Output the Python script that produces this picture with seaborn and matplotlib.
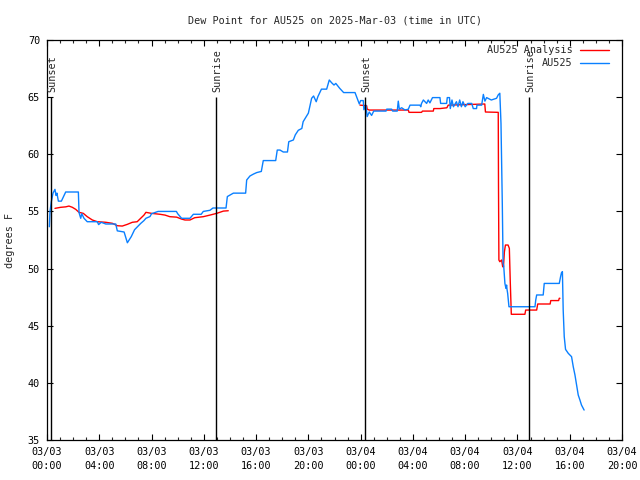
import numpy as np
import pandas as pd
import matplotlib
matplotlib.use("Agg")
import matplotlib.pyplot as plt
import seaborn as sns

title = "Dew Point for AU525 on 2025-Mar-03 (time in UTC)"
ylabel = "degrees F"

# hours since 2025-03-03 00:00 UTC
obs_hours = [0.18, 0.23, 0.33, 0.46, 0.61, 0.69, 0.76, 0.87, 1.10, 1.43, 2.40, 2.45, 2.58, 2.66, 2.83,
             3.08, 3.85, 3.95, 4.15, 4.5, 5.26, 5.38, 5.9, 6.15, 6.45, 6.7, 7.17, 7.42, 7.57, 7.88,
             8.0, 8.5, 9.9, 10.0, 10.3, 10.94, 11.2, 11.8, 11.96, 12.47, 12.7, 13.7, 13.8, 14.1, 14.26,
             15.2, 15.28, 15.53, 15.8, 16.05, 16.4, 16.55, 17.5, 17.62, 17.83, 18.08, 18.4, 18.5, 18.85,
             19.0, 19.23, 19.5, 19.6, 20.0, 20.25, 20.4, 20.6, 20.73, 21.0, 21.4, 21.6, 21.78, 21.96,
             22.1, 22.4, 22.7, 23.57, 23.7, 23.9, 24.0, 24.2, 24.25, 24.4, 24.5, 24.66, 24.84, 25.0,
             25.94, 26.0, 26.37, 26.45, 26.8, 26.88, 26.96, 27.14, 27.4, 27.65, 27.78, 28.54, 28.6,
             28.66, 28.8, 29.05, 29.17, 29.3, 29.5, 30.07, 30.12, 30.58, 30.63, 30.8, 30.86, 30.99,
             31.1, 31.33, 31.45, 31.58, 31.71, 31.83, 32.0, 32.2, 32.5, 32.62, 32.87, 32.9, 33.26,
             33.39, 33.51, 33.64, 34.0, 34.4, 34.53, 34.65, 34.74, 34.84, 34.9, 34.95, 35.04, 35.12,
             35.17, 35.2, 35.25, 35.3, 35.35, 37.34, 37.4, 37.47, 37.97, 38.05, 39.2, 39.3, 39.37,
             39.44, 39.5, 39.58, 39.68, 39.89, 40.14, 40.27, 40.4, 40.53, 40.65, 40.78, 40.9, 41.1]
obs_dewpt = [53.66, 55.0, 55.85, 56.6, 56.93, 56.4, 56.6, 55.9, 55.9, 56.7, 56.7, 54.9, 54.4, 54.8, 54.4,
             54.1, 54.1, 53.85, 54.05, 53.9, 53.9, 53.3, 53.2, 52.26, 52.8, 53.4, 53.95, 54.2, 54.4, 54.55,
             54.8, 55.0, 55.0, 54.8, 54.4, 54.4, 54.75, 54.75, 55.0, 55.1, 55.3, 55.3, 56.3, 56.5, 56.6,
             56.6, 57.75, 58.1, 58.27, 58.4, 58.5, 59.45, 59.45, 60.37, 60.37, 60.2, 60.2, 61.1, 61.25,
             61.7, 62.1, 62.26, 62.85, 63.6, 64.9, 65.1, 64.6, 65.05, 65.7, 65.7, 66.5, 66.26, 66.06,
             66.2, 65.77, 65.4, 65.4, 65.0, 64.4, 64.7, 64.7, 63.9, 64.3, 63.3, 63.7, 63.4, 63.78,
             63.78, 63.95, 63.95, 63.78, 63.78, 64.65, 63.95, 64.07, 63.87, 63.95, 64.3, 64.3, 64.16,
             64.45, 64.75, 64.45, 64.75, 64.5, 64.96, 64.96, 64.45, 64.45, 64.96, 64.96, 64.0, 64.75,
             64.16, 64.6, 64.16, 64.75, 64.16, 64.6, 64.16, 64.45, 64.45, 64.0, 64.0, 64.3, 64.3,
             65.24, 64.65, 64.96, 64.75, 64.9, 65.2, 65.34, 62.7, 55.7, 50.46, 50.2, 48.7, 48.27,
             48.56, 48.2, 47.83, 47.25, 46.66, 46.66, 47.25, 47.69, 47.69, 48.7, 48.7, 49.29, 49.64,
             49.73, 46.37, 44.04, 42.93, 42.58, 42.29, 41.41, 40.69, 39.81, 38.94, 38.5, 38.06, 37.62]

ana1_hours = [0.61, 1.05, 1.43, 1.68, 1.94, 2.2, 2.45, 2.78, 3.08, 3.47, 3.85, 4.5, 5.0, 5.38, 5.76,
              6.15, 6.53, 6.9, 7.42, 7.57, 8.0, 8.65, 9.03, 9.4, 9.92, 10.3, 10.56, 10.94, 11.3,
              11.96, 12.47, 12.98, 13.5, 13.87]
ana1_dewpt = [55.27, 55.36, 55.4, 55.47, 55.36, 55.18, 54.92, 54.83, 54.54, 54.25, 54.1, 54.05, 53.96,
              53.75, 53.72, 53.87, 54.05, 54.1, 54.68, 54.92, 54.83, 54.75, 54.68, 54.54, 54.5, 54.33,
              54.25, 54.25, 54.45, 54.54, 54.68, 54.83, 55.03, 55.06]
ana2_hours = [23.95, 24.46, 24.5, 24.66, 27.65, 27.7, 28.66, 28.73, 29.56, 29.6, 30.07, 30.6, 30.7,
              33.5, 33.55, 34.53, 34.55, 34.58, 34.65, 34.79, 34.87, 34.93, 35.0, 35.08, 35.28, 35.38,
              35.45, 35.53, 36.57, 36.63, 37.47, 37.55, 38.5, 38.55, 39.15, 39.2, 39.25]
ana2_dewpt = [64.3, 64.25, 63.95, 63.87, 63.87, 63.67, 63.67, 63.78, 63.78, 64.0, 64.0, 64.07, 64.3,
              64.4, 63.7, 63.67, 57.16, 50.75, 50.6, 50.75, 50.16, 50.16, 51.46, 52.06, 52.06, 51.77,
              48.85, 46.0, 46.0, 46.37, 46.37, 46.9, 46.9, 47.2, 47.2, 47.4, 47.4]

sun_hours = [0.32, 12.92, 24.33, 36.9]
sun_labels = ["Sunset", "Sunrise", "Sunset", "Sunrise"]
sun_top = 65.0

x_ticks = [0, 4, 8, 12, 16, 20, 24, 28, 32, 36, 40, 44]
x_ticklabels = ["03/03\n00:00", "03/03\n04:00", "03/03\n08:00", "03/03\n12:00", "03/03\n16:00",
                "03/03\n20:00", "03/04\n00:00", "03/04\n04:00", "03/04\n08:00", "03/04\n12:00",
                "03/04\n16:00", "03/04\n20:00"]
y_ticks = [35, 40, 45, 50, 55, 60, 65, 70]

sns.set_style("ticks")
mono = ["DejaVu Sans Mono"]
plt.rcParams["font.family"] = mono
fs = 7.3

obs = pd.DataFrame({"hour": obs_hours, "dewpt": obs_dewpt})
ana1 = pd.DataFrame({"hour": ana1_hours, "dewpt": ana1_dewpt})
ana2 = pd.DataFrame({"hour": ana2_hours, "dewpt": ana2_dewpt})

fig = plt.figure(figsize=(6.4, 4.8), dpi=100)
ax = fig.add_axes([47 / 640, 40 / 480, 575 / 640, 400 / 480])

red = "#ff0000"
blue = "#0a80ff"
sns.lineplot(data=ana1, x="hour", y="dewpt", ax=ax, color=red, lw=1.0, estimator=None, sort=False,
             label="AU525 Analysis")
sns.lineplot(data=ana2, x="hour", y="dewpt", ax=ax, color=red, lw=1.0, estimator=None, sort=False)
sns.lineplot(data=obs, x="hour", y="dewpt", ax=ax, color=blue, lw=1.0, estimator=None, sort=False,
             label="AU525")

ax.vlines(sun_hours, 35, sun_top, color="black", lw=1.0)
for h, lab in zip(sun_hours, sun_labels):
    ax.text(h + 0.08, sun_top + 0.45, lab, rotation=90, ha="center", va="bottom", fontsize=fs,
            family=mono)

ax.set_xlim(0, 44)
ax.set_ylim(35, 70)
ax.set_xticks(x_ticks)
ax.set_xticklabels(x_ticklabels, fontsize=fs)
ax.set_xticks(np.arange(0, 45, 1), minor=True)
ax.set_yticks(y_ticks)
ax.set_yticklabels([str(v) for v in y_ticks], fontsize=fs)
for t in ax.get_xticklabels():
    t.set_linespacing(1.45)
ax.tick_params(axis="both", which="major", direction="in", length=4.5, width=0.8,
               top=True, right=True, pad=5, colors="black")
ax.tick_params(axis="x", which="minor", direction="in", length=2.5, width=0.8, top=True)
for s in ax.spines.values():
    s.set_linewidth(0.9)
    s.set_color("black")

ax.set_xlabel("")
ax.set_ylabel(ylabel, fontsize=fs, labelpad=9)
ax.set_title(title, fontsize=fs, pad=12)

leg = ax.legend(loc="upper right", bbox_to_anchor=(1 - 8 / 575, 1), frameon=False,
                markerfirst=False, fontsize=fs, handlelength=2.9, handletextpad=0.7,
                labelspacing=0.3, borderaxespad=0.3, borderpad=0.2)
for line in leg.get_lines():
    line.set_linewidth(1.0)

fig.savefig("out.png", dpi=100)
